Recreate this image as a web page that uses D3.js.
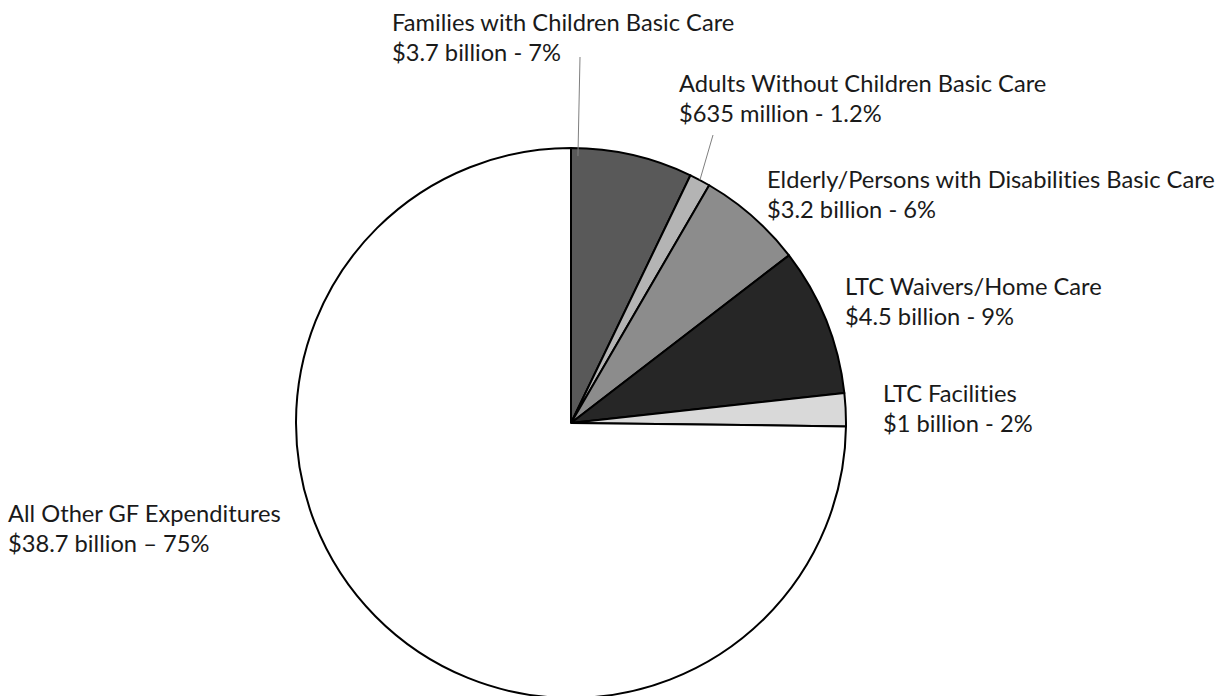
<!DOCTYPE html>
<html>
<head>
<meta charset="utf-8">
<script src="https://cdn.jsdelivr.net/npm/d3@7"></script>
<style>
    html, body { margin: 0; padding: 0; background: #fff; }
    svg { display: block; }
    .label {
        font-family: Lato, "Open Sans", sans-serif;
        font-size: 23.7px;
        font-variant-ligatures: none;
        fill: #1a1a1a;
    }
</style>
</head>
<body>
<div id="chart"></div>
<script>
// Slices, clockwise from 12 o'clock
const categories = [
    "Families with Children Basic Care",
    "Adults Without Children Basic Care",
    "Elderly/Persons with Disabilities Basic Care",
    "LTC Waivers/Home Care",
    "LTC Facilities",
    "All Other GF Expenditures"
];
const amounts = [3.7, 0.635, 3.2, 4.5, 1, 38.7];   // $ billion
const amountLabels = ["$3.7 billion", "$635 million", "$3.2 billion", "$4.5 billion", "$1 billion", "$38.7 billion"];
const percentLabels = ["7%", "1.2%", "6%", "9%", "2%", "75%"];
const separators = [" - ", " - ", " - ", " - ", " - ", " \u2013 "];

const fills = ["#595959", "#b4b4b4", "#8c8c8c", "#262626", "#d9d9d9", "#ffffff"];

// label boxes (left x, first baseline) and leader lines
const labelPos = [
    [392, 31], [679, 92], [767, 188], [845, 295], [883, 402], [8, 522]
];
const leaders = {
    0: { from: [580, 57], angleOffset: 0.026, rOffset: -8 },
    1: { from: [713, 135], angleOffset: 0.5, rOffset: 0 }
};

const width = 1228, height = 696;
const cx = 571, cy = 423, R = 275;

const svg = d3.select("#chart")
    .append("svg")
    .attr("width", width)
    .attr("height", height);

const pie = d3.pie().sort(null).value(d => d);
const arcs = pie(amounts);
const arc = d3.arc().innerRadius(0).outerRadius(R);

const g = svg.append("g").attr("transform", `translate(${cx},${cy})`);

g.selectAll("path")
    .data(arcs)
    .join("path")
    .attr("d", arc)
    .attr("fill", (d, i) => fills[i])
    .attr("stroke", "#000")
    .attr("stroke-width", 2)
    .attr("stroke-linejoin", "round");

// leader lines for the two top labels
Object.entries(leaders).forEach(([i, l]) => {
    const a = arcs[i];
    const ang = l.angleOffset < 0.1
        ? a.startAngle + l.angleOffset
        : a.startAngle + (a.endAngle - a.startAngle) * l.angleOffset;
    const r = R + l.rOffset;
    svg.append("line")
        .attr("x1", l.from[0])
        .attr("y1", l.from[1])
        .attr("x2", cx + r * Math.sin(ang))
        .attr("y2", cy - r * Math.cos(ang))
        .attr("stroke", "#7f7f7f")
        .attr("stroke-width", 1);
});

const labels = svg.append("g")
    .selectAll("text")
    .data(categories)
    .join("text")
    .attr("class", "label")
    .attr("x", (d, i) => labelPos[i][0])
    .attr("y", (d, i) => labelPos[i][1]);

labels.append("tspan").text(d => d);
labels.append("tspan")
    .attr("x", (d, i) => labelPos[i][0])
    .attr("dy", 30)
    .text((d, i) => amountLabels[i] + separators[i] + percentLabels[i]);
</script>
</body>
</html>
